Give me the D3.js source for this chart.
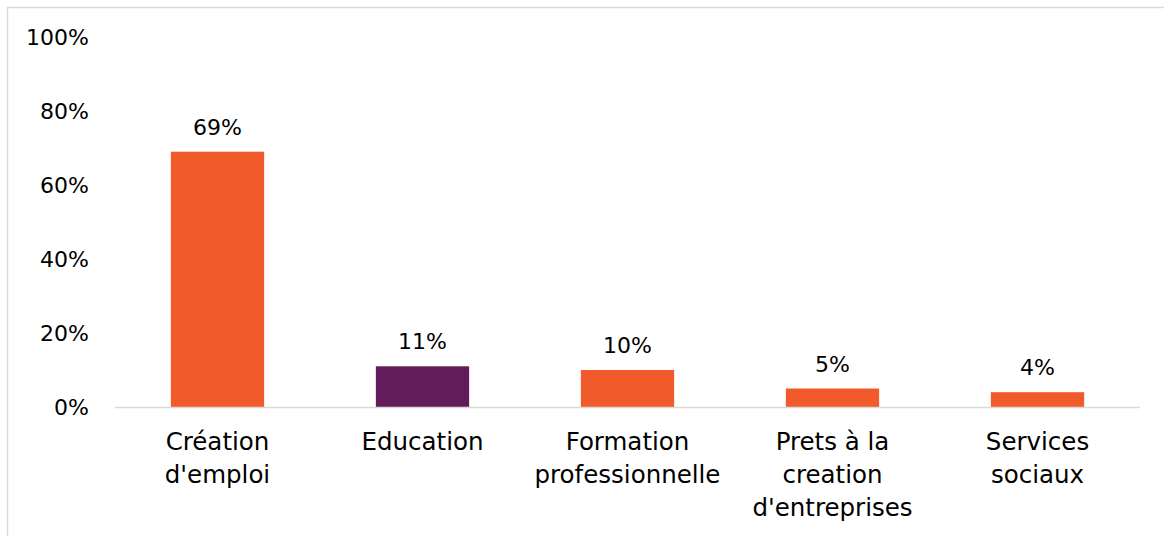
<!DOCTYPE html>
<html>
<head>
<meta charset="utf-8">
<script src="https://cdn.jsdelivr.net/npm/d3@7"></script>
<style>
  html, body { margin: 0; padding: 0; background: #fff; }
  svg { display: block; }
  text { font-family: "DejaVu Sans", sans-serif; fill: #000; }
</style>
</head>
<body>
<div id="chart"></div>
<script>
// Share of responses per area of intervention
const categories = [
  ["Création", "d'emploi"],
  ["Education"],
  ["Formation", "professionnelle"],
  ["Prets à la", "creation", "d'entreprises"],
  ["Services", "sociaux"]
];
const values = [0.69, 0.11, 0.10, 0.05, 0.04];
const barColors = ["#F15A2B", "#621C59", "#F15A2B", "#F15A2B", "#F15A2B"];
const yTicks = [0, 0.2, 0.4, 0.6, 0.8, 1.0];

const W = 1164, H = 536;
const svg = d3.select("#chart").append("svg")
  .attr("width", W).attr("height", H);

// Light frame around the chart area
svg.append("rect")
  .attr("x", 7.5).attr("y", 7.5)
  .attr("width", W + 10).attr("height", H + 10)
  .attr("fill", "none").attr("stroke", "#d9d9d9").attr("stroke-width", 1.5);

const x = d3.scaleBand()
  .domain(d3.range(values.length))
  .range([115, 1140])
  .paddingInner(0.545)
  .paddingOuter(0.2725);

const y = d3.scaleLinear().domain([0, 1]).range([407, 37]);

const fmt = d3.format(".0%");

// Y axis labels (no line, no ticks)
const yAxis = d3.axisLeft(y).tickValues(yTicks).tickFormat(fmt).tickSize(0).tickPadding(0);
const yg = svg.append("g").attr("transform", "translate(89,0)").call(yAxis);
yg.select(".domain").remove();
yg.selectAll("text")
  .attr("font-size", 22)
  .attr("font-family", "DejaVu Sans, sans-serif")
  .attr("fill", "#000")
  .attr("dy", "0.35em");

// Bars
svg.append("g").selectAll("rect")
  .data(values)
  .join("rect")
  .attr("x", (d, i) => x(i))
  .attr("y", d => y(d))
  .attr("width", x.bandwidth())
  .attr("height", d => y(0) - y(d))
  .attr("fill", (d, i) => barColors[i]);

// Baseline
svg.append("line")
  .attr("x1", 115).attr("x2", 1140)
  .attr("y1", y(0) + 0.5).attr("y2", y(0) + 0.5)
  .attr("stroke", "#d9d9d9").attr("stroke-width", 1.5);

// Value labels above bars
svg.append("g").selectAll("text")
  .data(values)
  .join("text")
  .attr("x", (d, i) => x(i) + x.bandwidth() / 2)
  .attr("y", d => y(d) - 17)
  .attr("text-anchor", "middle")
  .attr("font-size", 22)
  .text(d => fmt(d));

// Category labels, wrapped onto lines
const catG = svg.append("g").selectAll("text")
  .data(categories)
  .join("text")
  .attr("x", (d, i) => x(i) + x.bandwidth() / 2)
  .attr("y", 450)
  .attr("text-anchor", "middle")
  .attr("font-size", 24.5);
catG.selectAll("tspan")
  .data(d => d)
  .join("tspan")
  .attr("x", function () { return this.parentNode.getAttribute("x"); })
  .attr("dy", (d, i) => i === 0 ? 0 : 33)
  .text(d => d);
</script>
</body>
</html>
